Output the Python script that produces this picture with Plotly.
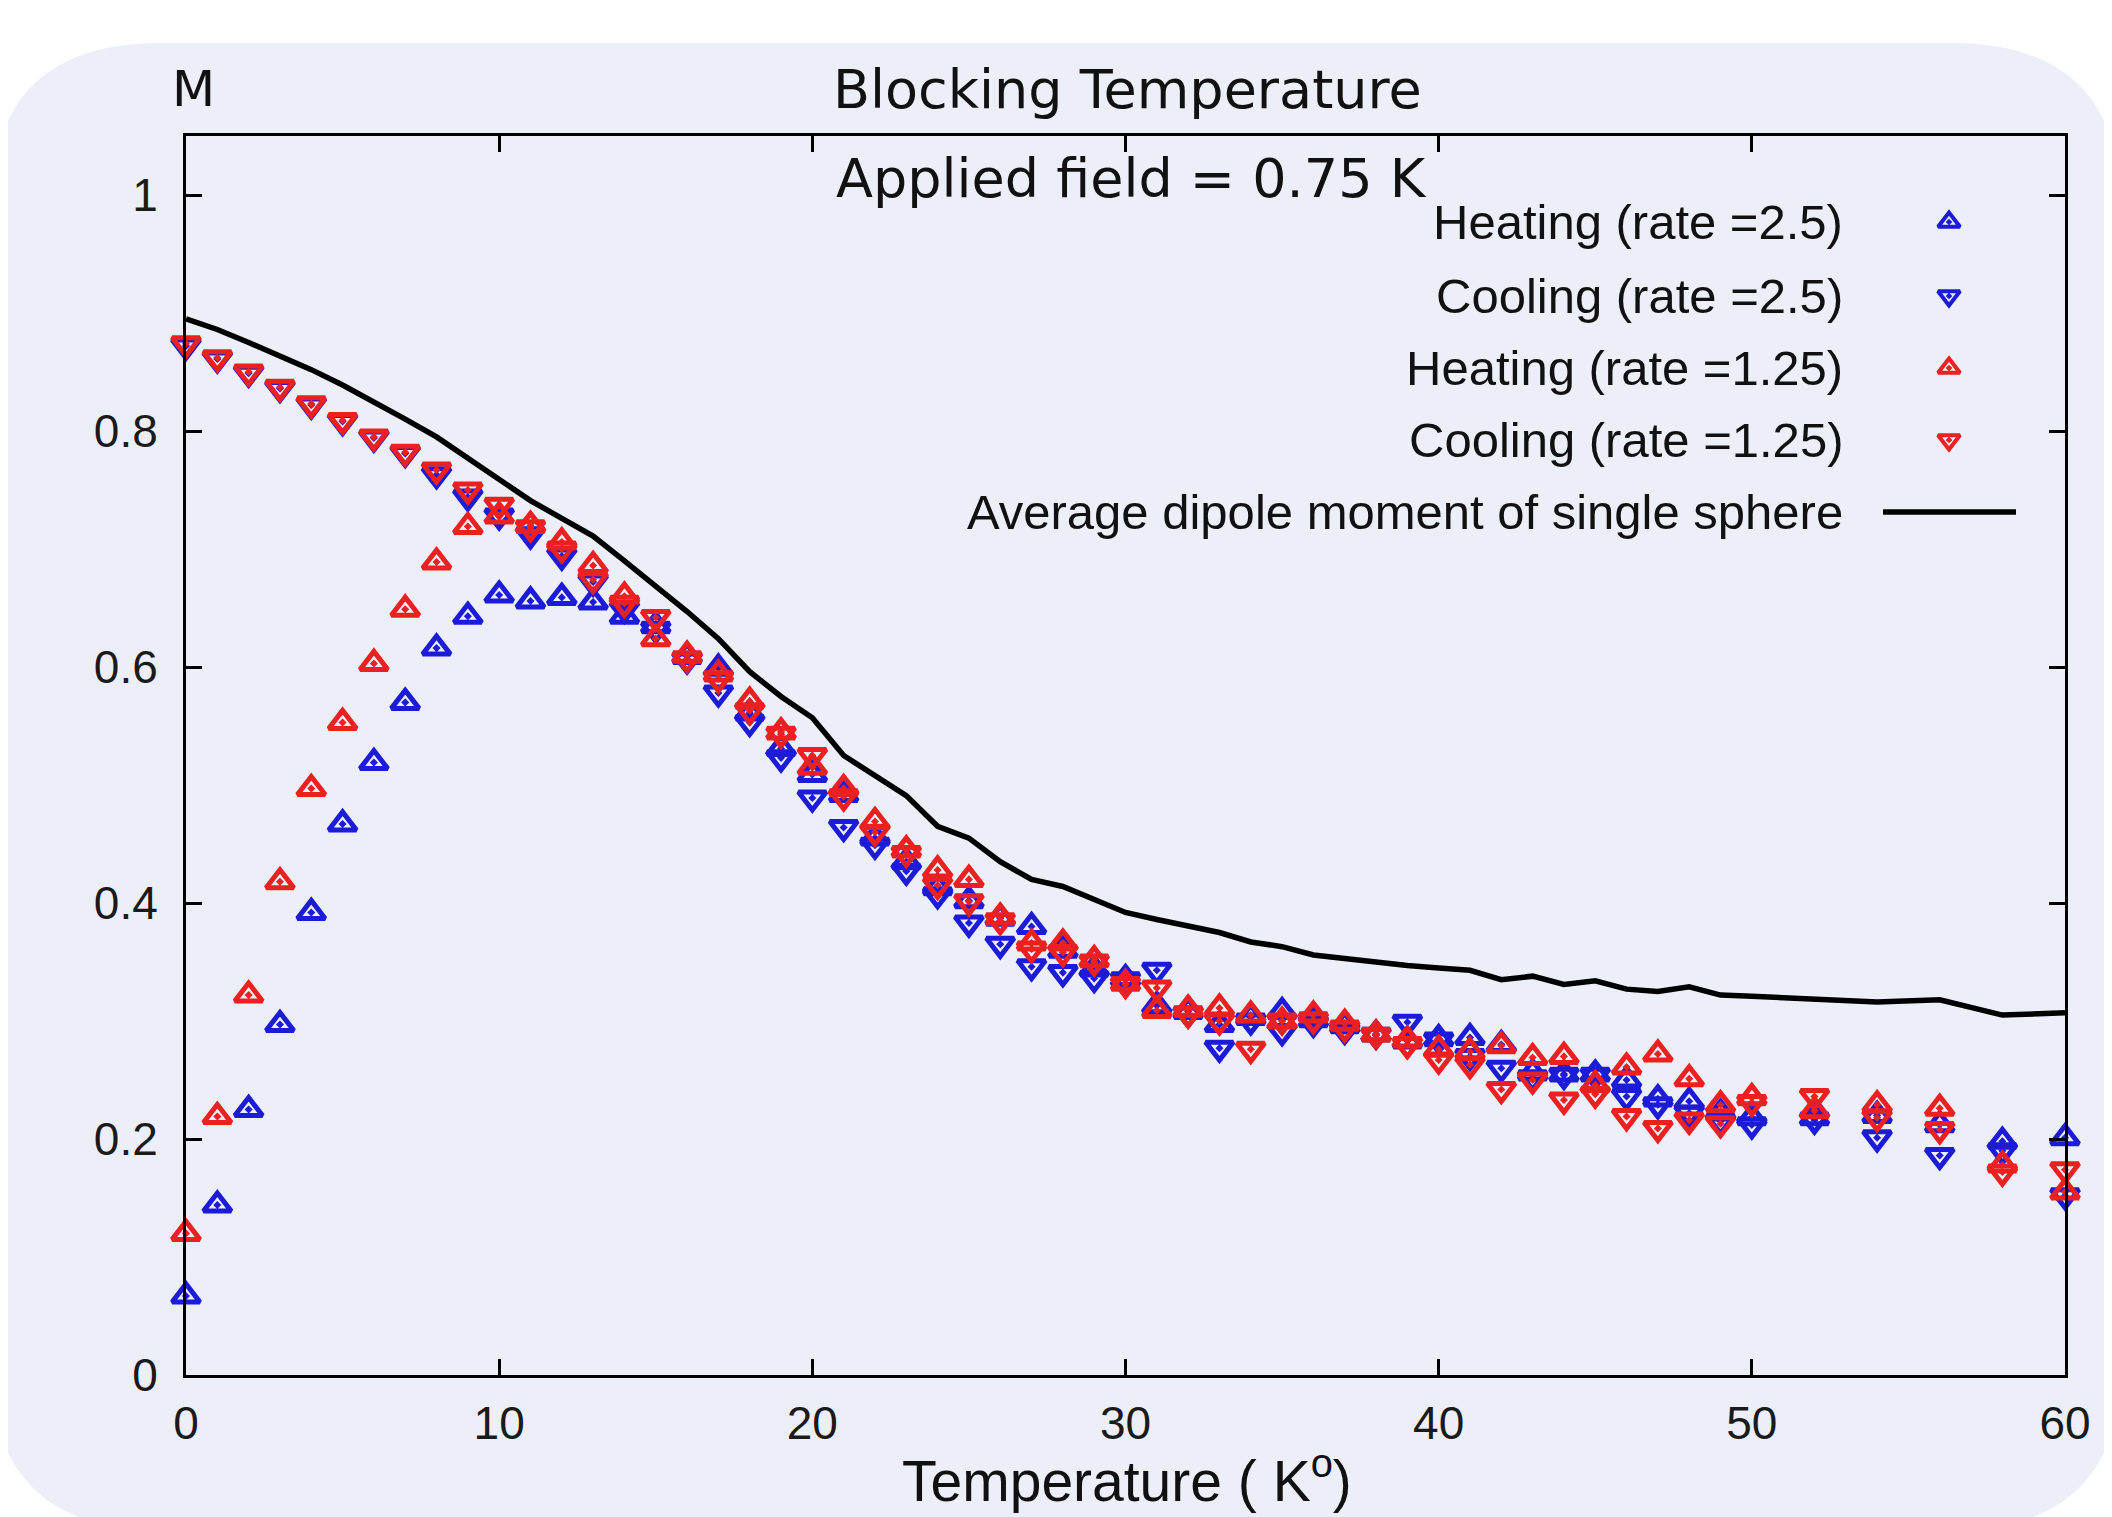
import plotly.graph_objects as go

# ---------------- data ----------------
temperature = list(range(0, 51)) + [52, 54, 56, 58, 60]

heating_2_5 = [0.067, 0.144, 0.225, 0.297, 0.392, 0.467, 0.519, 0.570, 0.616, 0.643,
               0.661, 0.656, 0.659, 0.655, 0.643, 0.635, 0.609, 0.599, 0.561, 0.531,
               0.509, 0.492, 0.455, 0.435, 0.413, 0.402, 0.387, 0.380, 0.360, 0.344,
               0.336, 0.313, 0.308, 0.297, 0.303, 0.308, 0.301, 0.296, 0.289, 0.283,
               0.285, 0.286, 0.280, 0.256, 0.255, 0.255, 0.250, 0.234, 0.232, 0.222,
               0.218, 0.218, 0.220, 0.212, 0.198, 0.201]

cooling_2_5 = [0.872, 0.861, 0.849, 0.836, 0.822, 0.808, 0.794, 0.781, 0.763, 0.744,
               0.728, 0.712, 0.694, 0.672, 0.649, 0.632, 0.606, 0.578, 0.553, 0.523,
               0.489, 0.464, 0.449, 0.427, 0.407, 0.383, 0.365, 0.346, 0.341, 0.336,
               0.335, 0.343, 0.306, 0.277, 0.300, 0.291, 0.298, 0.292, 0.288, 0.299,
               0.284, 0.270, 0.260, 0.252, 0.254, 0.254, 0.236, 0.229, 0.222, 0.215,
               0.212, 0.216, 0.201, 0.186, 0.190, 0.152]

heating_1_25 = [0.120, 0.219, 0.322, 0.418, 0.497, 0.553, 0.603, 0.649, 0.689, 0.719,
                0.728, 0.720, 0.706, 0.686, 0.660, 0.624, 0.610, 0.594, 0.571, 0.545,
                0.515, 0.497, 0.469, 0.445, 0.428, 0.420, 0.388, 0.366, 0.366, 0.352,
                0.332, 0.309, 0.310, 0.311, 0.305, 0.300, 0.305, 0.298, 0.289, 0.284,
                0.276, 0.274, 0.279, 0.269, 0.270, 0.246, 0.261, 0.272, 0.251, 0.229,
                0.235, 0.224, 0.229, 0.226, 0.178, 0.155]

cooling_1_25 = [0.874, 0.862, 0.850, 0.837, 0.823, 0.809, 0.795, 0.782, 0.767, 0.750,
                0.737, 0.718, 0.700, 0.674, 0.654, 0.642, 0.607, 0.590, 0.563, 0.543,
                0.525, 0.490, 0.460, 0.442, 0.415, 0.401, 0.385, 0.361, 0.358, 0.350,
                0.331, 0.328, 0.306, 0.300, 0.276, 0.300, 0.301, 0.294, 0.288, 0.280,
                0.267, 0.263, 0.242, 0.250, 0.233, 0.238, 0.219, 0.209, 0.216, 0.213,
                0.231, 0.236, 0.218, 0.208, 0.172, 0.174]

average_dipole = [0.895, 0.886, 0.875, 0.864, 0.852, 0.839, 0.825, 0.810, 0.795, 0.777,
                  0.759, 0.741, 0.726, 0.711, 0.690, 0.669, 0.647, 0.624, 0.596, 0.575,
                  0.557, 0.525, 0.508, 0.491, 0.465, 0.455, 0.435, 0.420, 0.414, 0.403,
                  0.392, 0.386, 0.380, 0.375, 0.367, 0.363, 0.356, 0.353, 0.349, 0.347,
                  0.345, 0.343, 0.335, 0.338, 0.331, 0.334, 0.327, 0.325, 0.329, 0.322,
                  0.321, 0.318, 0.316, 0.318, 0.305, 0.307]

series_names = ["Heating (rate =2.5)", "Cooling (rate =2.5)",
                "Heating (rate =1.25)", "Cooling (rate =1.25)",
                "Average dipole moment of single sphere"]

x_ticks = [0, 10, 20, 30, 40, 50, 60]
y_ticks = [0, 0.2, 0.4, 0.6, 0.8, 1.0]
y_tick_labels = ["0", "0.2", "0.4", "0.6", "0.8", "1"]

# ---------------- styling ----------------
OFF = 8                      # default page body margin
W, H = 2112 - OFF, 1517 - OFF
ML, MR, MT, MB = 186 - OFF, 47, 136 - OFF, 142
PW, PH = W - ML - MR, H - MT - MB
BLUE = "#1c1cd8"
RED = "#ec2020"
PANEL = "#edeff8"
MSIZE = 24
MLW = 5


def xp(px):
    """page pixel x -> paper fraction"""
    return (px - OFF - ML) / PW


def yp(py):
    """page pixel y -> paper fraction"""
    return (H - MB - (py - OFF)) / PH


fig = go.Figure()

styles = [
    (heating_2_5, BLUE, "triangle-up-open-dot"),
    (cooling_2_5, BLUE, "triangle-down-open-dot"),
    (heating_1_25, RED, "triangle-up-open-dot"),
    (cooling_1_25, RED, "triangle-down-open-dot"),
]
for (vals, col, sym), name in zip(styles, series_names[:4]):
    fig.add_trace(go.Scatter(
        x=temperature, y=vals, mode="markers", name=name, showlegend=False,
        cliponaxis=False,
        marker=dict(symbol=sym, size=MSIZE, color=col, line=dict(color=col, width=MLW)),
    ))

fig.add_trace(go.Scatter(
    x=temperature, y=average_dipole, mode="lines", name=series_names[4],
    showlegend=False, line=dict(color="black", width=5.5),
))

# ---------------- gnuplot-style key ----------------
key_rows_py = [222, 296, 368, 440, 512]
key_text_right = 1845
key_sym_px = 1949
key_syms = [("triangle-up-open-dot", BLUE), ("triangle-down-open-dot", BLUE),
            ("triangle-up-open-dot", RED), ("triangle-down-open-dot", RED)]
for (sym, col), py in zip(key_syms, key_rows_py[:4]):
    fig.add_trace(go.Scatter(
        x=[xp(key_sym_px)], y=[yp(py)], xaxis="x2", yaxis="y2", mode="markers",
        showlegend=False, hoverinfo="skip", cliponaxis=False,
        marker=dict(symbol=sym, size=19, color=col, line=dict(color=col, width=4)),
    ))
fig.add_trace(go.Scatter(
    x=[xp(1883), xp(2016)], y=[yp(key_rows_py[4])] * 2, xaxis="x2", yaxis="y2",
    mode="lines", showlegend=False, hoverinfo="skip", cliponaxis=False,
    line=dict(color="black", width=5.5),
))

annotations = []
for name, py in zip(series_names, key_rows_py):
    annotations.append(dict(
        text=name, x=xp(key_text_right), y=yp(py), xref="paper", yref="paper",
        xanchor="right", yanchor="middle", showarrow=False,
        font=dict(family="Liberation Sans", size=49, color="#111111"),
    ))

annotations += [
    dict(text="M", x=xp(193), y=yp(89), xref="paper", yref="paper", xanchor="center",
         yanchor="middle", showarrow=False,
         font=dict(family="DejaVu Sans", size=50, color="#111111")),
    dict(text="Blocking Temperature", x=xp(1127), y=yp(89), xref="paper", yref="paper",
         xanchor="center", yanchor="middle", showarrow=False,
         font=dict(family="DejaVu Sans", size=54, color="#111111")),
    dict(text="Applied field = 0.75 K", x=xp(1131), y=yp(178), xref="paper", yref="paper",
         xanchor="center", yanchor="middle", showarrow=False,
         font=dict(family="DejaVu Sans", size=54, color="#111111")),
    dict(text="Temperature ( K<sup>o</sup>)", x=xp(1127), y=yp(1477), xref="paper",
         yref="paper", xanchor="center", yanchor="middle", showarrow=False,
         font=dict(family="Liberation Sans", size=57, color="#111111")),
]

# ---------------- rounded background panel ----------------
L, T, R, B, RAD = -10, 43, 2122, 1530, 170
panel_path = (
    f"M {xp(L + RAD)},{yp(T)} L {xp(R - RAD)},{yp(T)} "
    f"Q {xp(R)},{yp(T)} {xp(R)},{yp(T + RAD)} "
    f"L {xp(R)},{yp(B - RAD)} Q {xp(R)},{yp(B)} {xp(R - RAD)},{yp(B)} "
    f"L {xp(L + RAD)},{yp(B)} Q {xp(L)},{yp(B)} {xp(L)},{yp(B - RAD)} "
    f"L {xp(L)},{yp(T + RAD)} Q {xp(L)},{yp(T)} {xp(L + RAD)},{yp(T)} Z"
)

axis_common = dict(
    showgrid=False, zeroline=False, showline=True, linecolor="black", linewidth=3,
    mirror="ticks", ticks="inside", ticklen=16, tickwidth=2.5, tickcolor="black",
    tickfont=dict(family="Liberation Sans", size=46, color="#1a1a1a"),
)

fig.update_layout(
    width=W, height=H,
    margin=dict(l=ML, r=MR, t=MT, b=MB, pad=0),
    paper_bgcolor="white", plot_bgcolor="rgba(0,0,0,0)",
    showlegend=False,
    xaxis=dict(range=[0, 60], tickvals=x_ticks, ticklabelstandoff=6, **axis_common),
    yaxis=dict(range=[0, 1.05], tickvals=y_ticks, ticktext=y_tick_labels,
               ticklabelstandoff=16, **axis_common),
    xaxis2=dict(overlaying="x", range=[0, 1], visible=False, fixedrange=True),
    yaxis2=dict(overlaying="y", range=[0, 1], visible=False, fixedrange=True),
    shapes=[dict(type="path", path=panel_path, xref="paper", yref="paper",
                 fillcolor=PANEL, line=dict(width=0), layer="below")],
    annotations=annotations,
)

fig.write_html("out.html")
